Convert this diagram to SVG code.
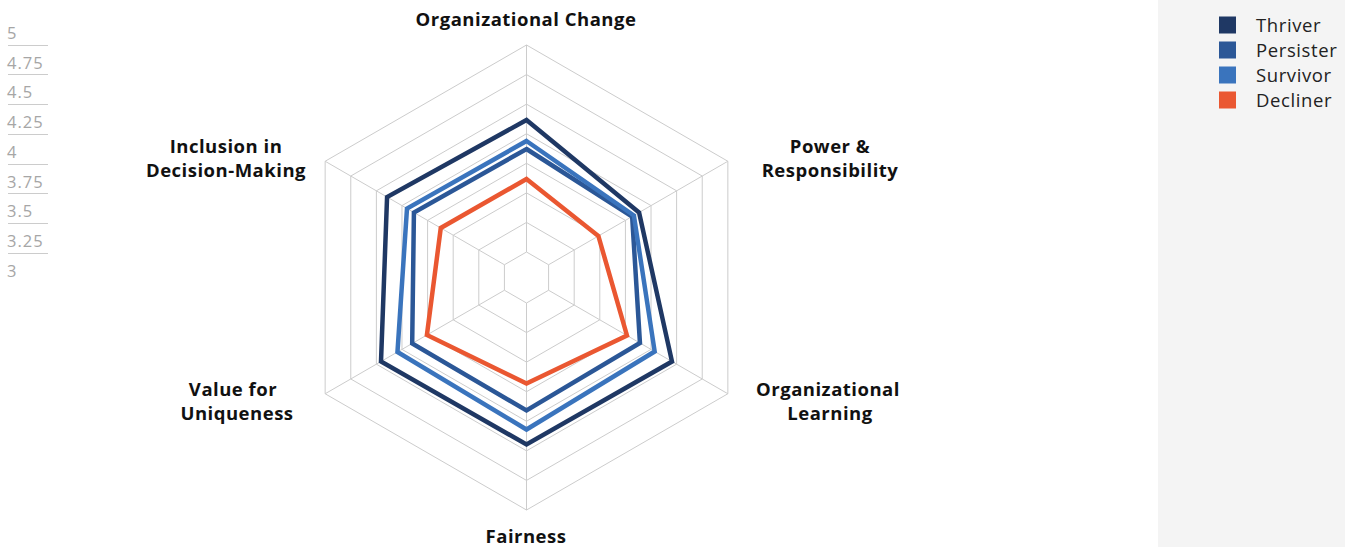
<svg xmlns="http://www.w3.org/2000/svg" width="1345" height="547" viewBox="0 0 1345 547">
<style>
.grid{fill:none;stroke:#cccccc;stroke-width:1}
.tick{font-family:"Open Sans",Lato,sans-serif;font-size:16.5px;letter-spacing:1px;fill:#a6a6a6}
.tickline{stroke:#cccccc;stroke-width:1}
.axis{font-family:"Open Sans",Lato,sans-serif;font-size:18.5px;font-weight:bold;letter-spacing:0.5px;fill:#111111;text-anchor:middle}
.leg{font-family:"Open Sans",Lato,sans-serif;font-size:18.5px;letter-spacing:0.6px;fill:#222222}
.series{fill:none;stroke-width:4.5;stroke-linejoin:miter}
</style>
<rect x="0" y="0" width="1345" height="547" fill="#ffffff"/>
<g id="scale">
<text class="tick" x="7" y="39">5</text>
<text class="tick" x="7" y="68.5">4.75</text>
<text class="tick" x="7" y="98">4.5</text>
<text class="tick" x="7" y="128">4.25</text>
<text class="tick" x="7" y="158">4</text>
<text class="tick" x="7" y="187.5">3.75</text>
<text class="tick" x="7" y="217">3.5</text>
<text class="tick" x="7" y="247">3.25</text>
<text class="tick" x="7" y="277">3</text>
<line class="tickline" x1="8" y1="45.5" x2="48" y2="45.5"/>
<line class="tickline" x1="8" y1="74.5" x2="48" y2="74.5"/>
<line class="tickline" x1="8" y1="104.5" x2="48" y2="104.5"/>
<line class="tickline" x1="8" y1="134.5" x2="48" y2="134.5"/>
<line class="tickline" x1="8" y1="164.5" x2="48" y2="164.5"/>
<line class="tickline" x1="8" y1="193.5" x2="48" y2="193.5"/>
<line class="tickline" x1="8" y1="223.5" x2="48" y2="223.5"/>
<line class="tickline" x1="8" y1="253.5" x2="48" y2="253.5"/>
</g>
<g id="grid">
<polygon class="grid" points="526.5,252 548.58,264.75 548.58,290.25 526.5,303 504.42,290.25 504.42,264.75"/>
<polygon class="grid" points="526.5,222.43 574.19,249.96 574.19,305.04 526.5,332.57 478.81,305.04 478.81,249.96"/>
<polygon class="grid" points="526.5,192.86 599.8,235.18 599.8,319.82 526.5,362.14 453.2,319.82 453.2,235.18"/>
<polygon class="grid" points="526.5,163.29 625.41,220.39 625.41,334.61 526.5,391.71 427.59,334.61 427.59,220.39"/>
<polygon class="grid" points="526.5,133.72 651.02,205.61 651.02,349.39 526.5,421.28 401.98,349.39 401.98,205.61"/>
<polygon class="grid" points="526.5,104.15 676.62,190.82 676.62,364.18 526.5,450.85 376.38,364.18 376.38,190.82"/>
<polygon class="grid" points="526.5,74.58 702.23,176.04 702.23,378.96 526.5,480.42 350.77,378.96 350.77,176.04"/>
<polygon class="grid" points="526.5,45 727.85,161.25 727.85,393.75 526.5,510 325.15,393.75 325.15,161.25"/>
<line class="grid" x1="526.5" y1="252" x2="526.5" y2="45"/>
<line class="grid" x1="548.58" y1="264.75" x2="727.85" y2="161.25"/>
<line class="grid" x1="548.58" y1="290.25" x2="727.85" y2="393.75"/>
<line class="grid" x1="526.5" y1="303" x2="526.5" y2="510"/>
<line class="grid" x1="504.42" y1="290.25" x2="325.15" y2="393.75"/>
<line class="grid" x1="504.42" y1="264.75" x2="325.15" y2="161.25"/>
</g>
<g id="connectors">
<polygon id="thriver" class="series" stroke="#1f3864" points="526.5,120 639.08,212.5 671.99,361.5 526.5,444.5 381.01,361.5 387.07,197"/>
<polygon id="persister" class="series" stroke="#2b5797" points="526.5,149 632.15,216.5 639.95,343 526.5,410.5 412.19,343.5 413.92,212.5"/>
<polygon id="survivor" class="series" stroke="#3a74bd" points="526.5,141 633.88,215.5 654.67,351.5 526.5,429.5 397.47,352 406.99,208.5"/>
<polygon id="decliner" class="series" stroke="#ea5731" points="526.5,179 598.38,236 626.96,335.5 526.5,383.5 426.91,335 440.77,228"/>
</g>
<g id="labels">
<g id="label-org-change"><text class="axis" x="526" y="26">Organizational Change</text></g>
<g id="label-power"><text class="axis" x="830" y="153">Power &amp;</text><text class="axis" x="830" y="177">Responsibility</text></g>
<g id="label-learning"><text class="axis" x="828" y="396">Organizational</text><text class="axis" x="830" y="420">Learning</text></g>
<g id="label-fairness"><text class="axis" x="526" y="543">Fairness</text></g>
<g id="label-value"><text class="axis" x="233" y="396">Value for</text><text class="axis" x="237" y="420">Uniqueness</text></g>
<g id="label-inclusion"><text class="axis" x="226" y="153">Inclusion in</text><text class="axis" x="226" y="177">Decision-Making</text></g>
</g>
<g id="legend">
<rect x="1158" y="0" width="187" height="547" fill="#f4f4f4"/>
<rect x="1219" y="16.5" width="17" height="17" fill="#1f3864"/>
<rect x="1219" y="41.5" width="17" height="17" fill="#2b5797"/>
<rect x="1219" y="66.5" width="17" height="17" fill="#3a74bd"/>
<rect x="1219" y="91.5" width="17" height="17" fill="#ea5731"/>
<text class="leg" x="1256" y="32">Thriver</text>
<text class="leg" x="1256" y="57">Persister</text>
<text class="leg" x="1256" y="82">Survivor</text>
<text class="leg" x="1256" y="107">Decliner</text>
</g>
</svg>
